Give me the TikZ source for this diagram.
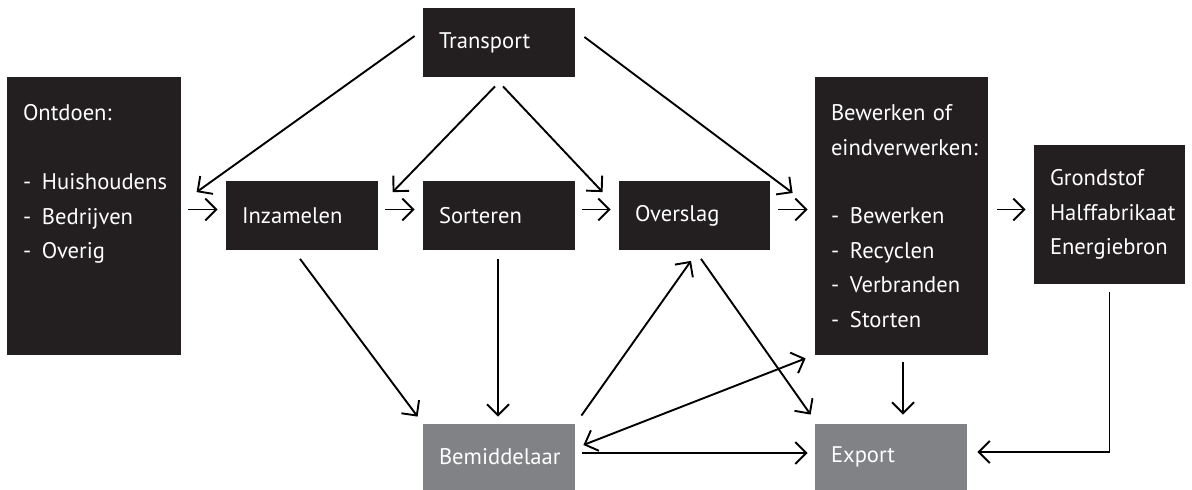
\documentclass[tikz,border=0pt]{standalone}
\usepackage{fontspec}
\setmainfont{PT Sans}
\usetikzlibrary{arrows.meta}

\definecolor{boxblack}{HTML}{231F20}
\definecolor{boxgrey}{HTML}{808285}

\newcommand{\itm}[1]{\makebox[9.5pt][l]{-}#1}

\begin{document}
\begin{tikzpicture}[x=0.5pt, y=-0.5pt,
	box/.style={fill=boxblack, text=white, inner xsep=8pt, inner ysep=0pt, align=left, font=\fontsize{11.3}{17.2}\selectfont},
	greybox/.style={box, fill=boxgrey},
	arr/.style={-{Straight Barb[length=5.5pt,width=11pt]}, line width=0.95pt}]

	\useasboundingbox (0, 0) rectangle (1192, 490);

	\node[box, text width=71pt, minimum height=139pt] (ontdoen) at (94, 216)
		{Ontdoen:\\[17.2pt]\itm{Huishoudens}\\\itm{Bedrijven}\\\itm{Overig}\\[17.2pt]\mbox{}};
	\node[box, text width=60pt, minimum height=34.5pt] (transport) at (499, 42.5) {Transport};
	\node[box, text width=60pt, minimum height=34.5pt] (inzamelen) at (302, 216) {Inzamelen};
	\node[box, text width=60pt, minimum height=34.5pt] (sorteren) at (499, 216) {Sorteren};
	\node[box, text width=59.5pt, minimum height=34.5pt] (overslag) at (694.5, 216) {Overslag};
	\node[box, text width=70.5pt, minimum height=139pt] (bewerken) at (901.5, 216)
		{Bewerken of\\eindverwerken:\\[17.2pt]\itm{Bewerken}\\\itm{Recyclen}\\\itm{Verbranden}\\\itm{Storten}};
	\node[box, text width=59.5pt, minimum height=69.5pt] (grondstof) at (1109.5, 214.5)
		{Grondstof\\Halffabrikaat\\Energiebron};
	\node[greybox, text width=60pt, minimum height=33pt] (bemiddelaar) at (499, 457) {Bemiddelaar};
	\node[greybox, text width=60pt, minimum height=33pt] (export) at (891, 457) {Export};

	% vanuit transport
	\path[arr] ([xshift=-4pt, yshift=3.25pt]transport.west) edge ([xshift=-14.5pt, yshift=-5.5pt]inzamelen.north west);
	\path[arr] ([xshift=-2pt, yshift=-4.5pt]transport.south) edge ([xshift=-15pt, yshift=-5.5pt]sorteren.north west);
	\path[arr] ([xshift=2pt, yshift=-4.5pt]transport.south) edge ([xshift=-8pt, yshift=-5.5pt]overslag.north west);
	\path[arr] ([xshift=4.5pt, yshift=2.75pt]transport.east) edge ([xshift=-11pt, yshift=11.5pt]bewerken.west);

	% de keten
	\path[arr] ([xshift=3.5pt, yshift=3.25pt]ontdoen.east) edge ([xshift=-4pt, yshift=3.25pt]inzamelen.west);
	\path[arr] ([xshift=3.5pt, yshift=3.25pt]inzamelen.east) edge ([xshift=-4pt, yshift=3.25pt]sorteren.west);
	\path[arr] ([xshift=3.5pt, yshift=3.25pt]sorteren.east) edge ([xshift=-4pt, yshift=3.25pt]overslag.west);
	\path[arr] ([xshift=4pt, yshift=3.25pt]overslag.east) edge ([xshift=-3.5pt, yshift=3.25pt]bewerken.west);
	\path[arr] ([xshift=4.5pt, yshift=3.25pt]bewerken.east) edge ([xshift=-4pt, yshift=2.5pt]grondstof.west);

	% naar bemiddelaar en export
	\path[arr] ([xshift=-1pt, yshift=-4pt]inzamelen.south) edge ([xshift=-2.5pt, yshift=3.5pt]bemiddelaar.north west);
	\path[arr] ([xshift=-0.5pt, yshift=-4pt]sorteren.south) edge ([xshift=-0.5pt, yshift=3.5pt]bemiddelaar.north);
	\path[arr] ([xshift=3pt, yshift=4pt]bemiddelaar.north east) edge ([xshift=-1.75pt, yshift=-5pt]overslag.south);
	\path[arr] ([xshift=3.25pt, yshift=-4pt]overslag.south) edge ([xshift=-2pt, yshift=4.5pt]export.north west);
	\path[arr, {Straight Barb[length=5.5pt,width=11pt]}-{Straight Barb[length=5.5pt,width=11pt]}] ([xshift=4pt, yshift=6pt]bemiddelaar.east) edge ([xshift=-4.5pt, yshift=-1.5pt]bewerken.south west);
	\path[arr] ([xshift=3.5pt, yshift=2pt]bemiddelaar.east) edge ([xshift=-3.5pt, yshift=2pt]export.west);
	\path[arr] ([xshift=0.75pt, yshift=-3.5pt]bewerken.south) edge ([xshift=6pt, yshift=4.5pt]export.north);
	\draw[arr] ([yshift=-4pt]grondstof.south) |- ([xshift=5pt, yshift=2.5pt]export.east);

\end{tikzpicture}
\end{document}
